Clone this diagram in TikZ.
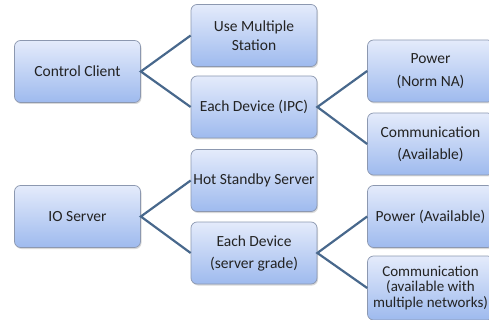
\documentclass[tikz,border=0pt]{standalone}
\usepackage{fontspec}
\setmainfont{Carlito}
\usetikzlibrary{shadows}

\definecolor{boxtop}{RGB}{228,235,251}
\definecolor{boxbot}{RGB}{158,186,238}
\definecolor{boxline}{RGB}{140,152,176}
\definecolor{linkcol}{RGB}{72,104,140}
\definecolor{txtcol}{RGB}{35,35,35}

\tikzset{
  item/.style={
    rectangle, rounded corners=6pt, draw=boxline, line width=0.7pt,
    top color=boxtop, bottom color=boxbot,
    minimum width=126pt, minimum height=62pt, inner sep=0pt,
    align=center, text=txtcol,
    font=\fontsize{15.5}{22}\selectfont,
    drop shadow={shadow xshift=1pt, shadow yshift=-1.5pt, opacity=0.3}
  },
  link/.style={draw=linkcol, line width=2.2pt},
}

\begin{document}
\begin{tikzpicture}[x=1pt, y=-1pt]
  \useasboundingbox (0,0) rectangle (489,320);
  \clip (0,0) rectangle (489,320);

  % upper tree
  \node[item] (cc)  at (77.5, 71.5) {Control Client};
  \node[item, font=\fontsize{15.5}{19}\selectfont] (um) at (254, 35.5) {Use Multiple\\Station};
  \node[item] (edi) at (254, 107) {Each Device (IPC)};
  \node[item, font=\fontsize{15.5}{23}\selectfont] (pn) at (430.5, 71) {Power\\(Norm NA)};
  \node[item] (ca)  at (430.5, 144) {Communication\\(Available)};

  % lower tree
  \node[item] (io)  at (77.5, 216.5) {IO Server};
  \node[item] (hs)  at (254, 180.5) {Hot Standby Server};
  \node[item] (eds) at (254, 253) {Each Device\\(server grade)};
  \node[item] (pa)  at (430.5, 216.5) {Power (Available)};
  \node[item, minimum height=64pt, font=\fontsize{15}{15.5}\selectfont] (cm) at (430.5, 288)
    {Communication\\(available with\\multiple networks)};

  % connectors
  \draw[link] (um.west) -- (cc.east) -- (edi.west);
  \draw[link] (pn.west) -- (edi.east) -- (ca.west);
  \draw[link] (hs.west) -- (io.east) -- (eds.west);
  \draw[link] (pa.west) -- (eds.east) -- (cm.west);
\end{tikzpicture}
\end{document}
